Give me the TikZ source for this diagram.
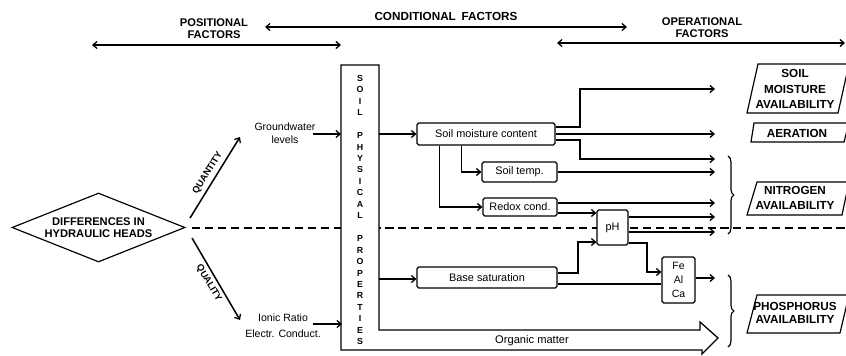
\documentclass[tikz,border=0pt]{standalone}
\usepackage{fontspec}
\setmainfont{Liberation Sans}
\usetikzlibrary{arrows.meta,shapes.geometric,decorations.pathreplacing}
\begin{document}
\begin{tikzpicture}[x=0.03cm,y=-0.03cm,
  line width=1pt,
  tip/.tip={Straight Barb[length=3.5pt,width=6pt,line width=1.1pt]},
  arr/.style={-tip},
  dbl/.style={tip-tip},
  capt/.style={font=\bfseries\fontsize{9.5}{10.5}\selectfont, align=center, inner sep=0pt},
  smallcap/.style={font=\bfseries\fontsize{8}{9}\selectfont, inner sep=0pt},
  lab/.style={font=\fontsize{9.3}{12}\selectfont, inner sep=0pt, align=center},
  box/.style={draw, fill=white, rounded corners=1.5pt, inner sep=0pt, line width=1pt, lab},
  avail/.style={draw, fill=white, line width=1pt},
  dashline/.style={dash pattern=on 7pt off 4pt, line width=1pt},
  brc/.style={decorate, decoration={brace, amplitude=5pt}, line width=1pt}
]
\useasboundingbox (0,0) rectangle (846,355);

% ---- top factor labels
\node[capt] (posf) at (214,29) {POSITIONAL\\FACTORS};
\node[capt, font=\bfseries\fontsize{10}{11}\selectfont] (condf) at (446,16) {CONDITIONAL\enspace FACTORS};
\node[capt] (operf) at (702,28) {OPERATIONAL\\FACTORS};
\coordinate (p1) at (92,45);  \coordinate (p2) at (341,45);
\coordinate (c1) at (265,27); \coordinate (c2) at (627,27);
\coordinate (o1) at (557,43); \coordinate (o2) at (845,43);
\draw[dbl] (p1) -- (p2);
\draw[dbl] (c1) -- (c2);
\draw[dbl] (o1) -- (o2);

% ---- dashed separation line
\coordinate (dl1) at (192,228); \coordinate (dl2) at (846,228);
\draw[dashline] (dl1) -- (dl2);

% ---- diamond
\node[draw, diamond, aspect=2.5, inner sep=0pt, line width=1pt,
      minimum width=173*0.03cm, minimum height=69*0.03cm, fill=white,
      capt] (diff) at (98.5,227.5) {DIFFERENCES IN\\HYDRAULIC HEADS};

% ---- quantity / quality
\coordinate (qa1) at (190,218); \coordinate (qa2) at (240,137);
\coordinate (ql1) at (192,238); \coordinate (ql2) at (240,320);
\draw[arr, line width=1.3pt] (qa1) -- node[midway, sloped, above=3pt, smallcap] (quant) {QUANTITY} (qa2);
\draw[arr, line width=1.3pt] (ql1) -- node[midway, sloped, below=3pt, smallcap] (qual) {QUALITY} (ql2);

\node[lab, font=\fontsize{9}{11}\selectfont] (gw) at (285,133) {Groundwater\\levels};
\node[lab, font=\fontsize{9}{14}\selectfont] (ion) at (283,326) {Ionic Ratio\\Electr. Conduct.};

% ---- soil physical properties box with organic matter arrow
\draw[fill=white, line width=1.1pt] (341,65) -- (379,65) -- (379,330) -- (700,330) -- (700,322)
   -- (718,338) -- (702,354) -- (702,350) -- (341,350) -- cycle;
\node[font=\bfseries\fontsize{7.5}{9.78}\selectfont, align=center, inner sep=0pt] (spp) at (360,210)
 {S\\O\\I\\L\\\mbox{}\\P\\H\\Y\\S\\I\\C\\A\\L\\\mbox{}\\P\\R\\O\\P\\E\\R\\T\\I\\E\\S};
\node[lab, font=\fontsize{9.5}{10}\selectfont] (om) at (532,341) {Organic matter};

\coordinate (gwa) at (313,134); \coordinate (sppgw) at (341,134);
\coordinate (iona) at (313,324); \coordinate (sppion) at (342,324);
\draw[arr] (gwa) -- (sppgw);
\draw[arr] (iona) -- (sppion);

% ---- conditional boxes
\node[box, minimum width=138*0.03cm, minimum height=22*0.03cm] (smc) at (486,134) {Soil moisture content};
\node[box, minimum width=75*0.03cm, minimum height=20*0.03cm] (stemp) at (519.5,172) {Soil temp.};
\node[box, minimum width=74*0.03cm, minimum height=18*0.03cm] (redox) at (520,207) {Redox cond.};
\node[box, minimum width=31*0.03cm, minimum height=35*0.03cm] (ph) at (612.5,227.5) {pH};
\node[box, minimum width=140*0.03cm, minimum height=21*0.03cm] (bsat) at (487,277.5) {Base saturation};
\node[box, minimum width=33*0.03cm, minimum height=46*0.03cm, font=\fontsize{9}{12}\selectfont] (feal) at (678.5,280) {Fe\\Al\\Ca};

\coordinate (sppsmc) at (379,134);
\coordinate (sppbs) at (379,279);
\draw[arr] (sppsmc) -- (smc.west);
\draw[arr] (sppbs) -- (bsat.west |- 0,279);
\draw[arr] (smc.south west) ++(23,0) |- (redox.west);
\draw[arr] (smc.south west) ++(45,0) |- (stemp.west);

% ---- outputs to the right
\coordinate (e1) at (715,89);
\coordinate (e2) at (715,134);
\coordinate (e3) at (715,159);
\coordinate (e4) at (715,172);
\coordinate (e5) at (715,203);
\coordinate (e6) at (715,217);
\coordinate (e7) at (715,232);
\coordinate (e8) at (715,278);
\draw[arr] (smc.east |- 0,127) -- (580,127) -- (580,89) -- (e1);
\draw[arr] (smc.east) -- (e2);
\draw[arr] (smc.east |- 0,140) -- (580,140) -- (580,159) -- (e3);
\draw[arr] (stemp.east) -- (e4);
\draw[arr] (redox.east |- 0,203) -- (e5);
\draw[arr] (redox.east |- 0,213) -- (ph.west |- 0,213);
\draw[arr] (ph.east |- 0,217) -- (e6);
\draw[arr] (ph.east |- 0,232) -- (e7);
\draw[arr] (ph.east |- 0,243) -- (647,243) -- (647,272) -- (feal.west |- 0,272);
\draw[arr] (bsat.east |- 0,273) -- (578,273) -- (578,242) -- (ph.west |- 0,242);
\draw (bsat.east |- 0,284) -- (feal.west |- 0,284);
\draw[arr] (feal.east |- 0,278) -- (e8);

% ---- braces
\coordinate (nb1) at (728,156); \coordinate (nb2) at (728,234);
\coordinate (pb1) at (728,275); \coordinate (pb2) at (728,347);
\draw[brc] (nb1) -- (nb2);
\draw[brc] (pb1) -- (pb2);

% ---- operational factor boxes
\draw[avail] (758,64) -- (849,64) -- (838,113) -- (747,113) -- cycle;
\node[capt, font=\bfseries\fontsize{10}{13.5}\selectfont] (sma) at (795,89) {SOIL\\MOISTURE\\AVAILABILITY};
\draw[avail] (754,123) -- (849,123) -- (844,142) -- (751,142) -- cycle;
\node[capt, font=\bfseries\fontsize{10}{10}\selectfont] (aer) at (797,133) {AERATION};
\draw[avail] (757,182) -- (849,182) -- (842,215) -- (747,215) -- cycle;
\node[capt, font=\bfseries\fontsize{10}{12.5}\selectfont] (nit) at (795,198) {NITROGEN\\AVAILABILITY};
\draw[avail] (757,295) -- (849,295) -- (840,333) -- (747,333) -- cycle;
\node[capt, font=\bfseries\fontsize{10}{11}\selectfont] (pho) at (795,313) {PHOSPHORUS\\AVAILABILITY};
\end{tikzpicture}
\end{document}
